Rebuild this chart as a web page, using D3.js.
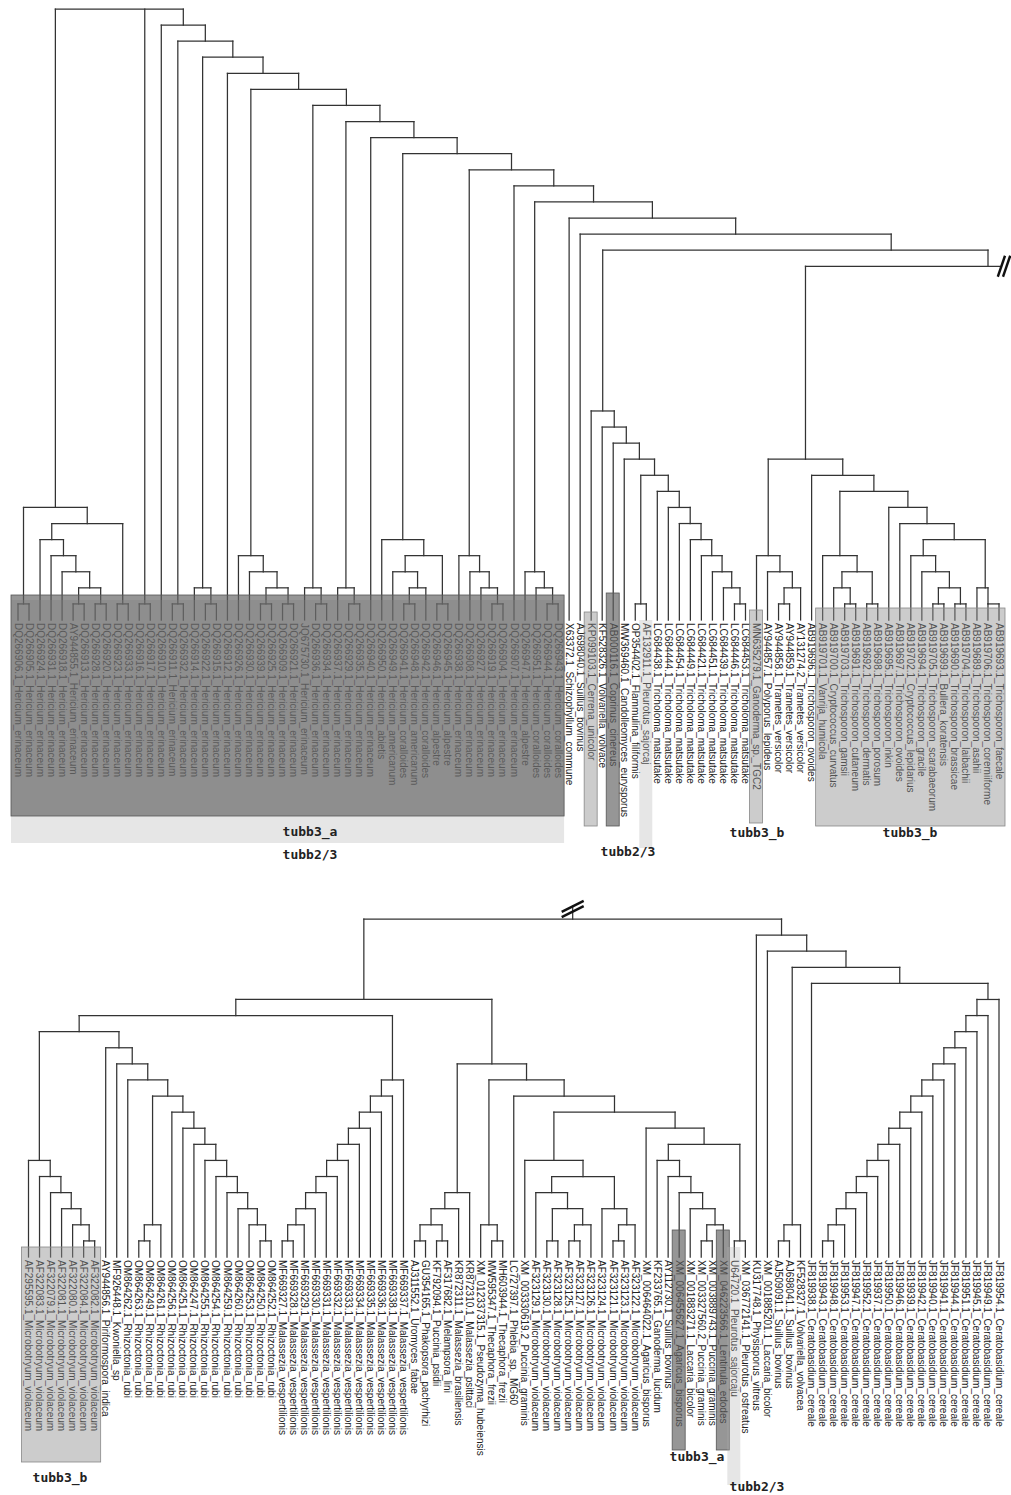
<!DOCTYPE html>
<html>
<head>
<meta charset="utf-8">
<script src="https://cdn.jsdelivr.net/npm/d3@7"></script>
<style>
  body { margin: 0; background: #fff; }
  .branch { stroke: #333; stroke-width: 1.25; stroke-linecap: square; }
  .leaf-label { font-family: "Liberation Sans", Arial, sans-serif; font-size: 10px; fill: #222; }
  .gene-label { font-family: "DejaVu Sans Mono", monospace; font-weight: bold; font-size: 13px; fill: #222; text-anchor: middle; }
  .break-mark { stroke: #111; stroke-width: 2.4; }
</style>
</head>
<body>
<div id="chart"></div>
<script>
// leaf names, left to right, upper half of the tree
const topLabels = [
  'DQ266906.1_Hericium_erinaceum', 'DQ266905.1_Hericium_erinaceum', 'DQ266924.1_Hericium_erinaceum',
  'DQ266931.1_Hericium_erinaceum', 'DQ266918.1_Hericium_erinaceum', 'AY944855.1_Hericium_erinaceum',
  'DQ266913.1_Hericium_erinaceum', 'DQ266928.1_Hericium_erinaceum', 'DQ266920.1_Hericium_erinaceum',
  'DQ266923.1_Hericium_erinaceum', 'DQ266933.1_Hericium_erinaceum', 'DQ266916.1_Hericium_erinaceum',
  'DQ266917.1_Hericium_erinaceum', 'DQ266910.1_Hericium_erinaceum', 'DQ266911.1_Hericium_erinaceum',
  'DQ266932.1_Hericium_erinaceum', 'DQ266914.1_Hericium_erinaceum', 'DQ266922.1_Hericium_erinaceum',
  'DQ266915.1_Hericium_erinaceum', 'DQ266912.1_Hericium_erinaceum', 'DQ266926.1_Hericium_erinaceum',
  'DQ266930.1_Hericium_erinaceum', 'DQ266939.1_Hericium_erinaceum', 'DQ266925.1_Hericium_erinaceum',
  'DQ266909.1_Hericium_erinaceum', 'DQ266921.1_Hericium_erinaceum', 'JQ675730.1_Hericium_erinaceum',
  'DQ266936.1_Hericium_erinaceum', 'DQ266934.1_Hericium_erinaceum', 'DQ266937.1_Hericium_erinaceum',
  'DQ266929.1_Hericium_erinaceum', 'DQ266935.1_Hericium_erinaceum', 'DQ266940.1_Hericium_erinaceum',
  'DQ266950.1_Hericium_abietis', 'DQ266949.1_Hericium_americanum', 'DQ266941.1_Hericium_coralloides',
  'DQ266948.1_Hericium_americanum', 'DQ266942.1_Hericium_coralloides', 'DQ266946.1_Hericium_alpestre',
  'DQ266945.1_Hericium_alpestre', 'DQ266938.1_Hericium_erinaceum', 'DQ266908.1_Hericium_erinaceum',
  'DQ266927.1_Hericium_erinaceum', 'DQ266919.1_Hericium_erinaceum', 'DQ266904.1_Hericium_erinaceum',
  'DQ266907.1_Hericium_erinaceum', 'DQ266947.1_Hericium_alpestre', 'DQ266951.1_Hericium_coralloides',
  'DQ266944.1_Hericium_coralloides', 'DQ266943.1_Hericium_coralloides', 'X63372.1_Schizophyllum_commune',
  'AJ698040.1_Suillus_bovinus', 'KP099103.1_Cerrena_unicolor', 'KF528326.1_Volvariella_volvace',
  'AB000116.1_Coprinus_cinereus', 'MW369460.1_Candolleomyces_eurysporus', 'OP354402.1_Flammulina_filiformis',
  'AF132911.1_Pleurotus_sajorcaj', 'LC684438.1_Tricholoma_matsutake', 'LC684444.1_Tricholoma_matsutake',
  'LC684454.1_Tricholoma_matsutake', 'LC684449.1_Tricholoma_matsutake', 'LC684421.1_Tricholoma_matsutake',
  'LC684451.1_Tricholoma_matsutake', 'LC684439.1_Tricholoma_matsutake', 'LC684446.1_Tricholoma_matsutake',
  'LC684453.1_Tricholoma_matsutake', 'MN635279.1_Ganoderma_sp._TGC2', 'AY944857.1_Polyporus_lepideus',
  'AY944858.1_Trametes_versicolor', 'AY944859.1_Trametes_versicolor', 'AY131274.2_Trametes_versicolor',
  'AB919696.1_Trichosporon_ovoides', 'AB919701.1_Vanrija_humicola', 'AB919700.1_Cryptococcus_curvatus',
  'AB919703.1_Trichosporon_gamsii', 'AB919691.1_Trichosporon_cutaneum', 'AB919692.1_Trichosporon_dermatis',
  'AB919698.1_Trichosporon_porosum', 'AB919695.1_Trichosporon_inkin', 'AB919697.1_Trichosporon_ovoides',
  'AB919702.1_Cryptococcus_lepidarius', 'AB919694.1_Trichosporon_gracile', 'AB919705.1_Trichosporon_scarabaeorum',
  'AB919699.1_Bullera_koratensis', 'AB919690.1_Trichosporon_brassicae', 'AB919704.1_Trichosporon_laibachii',
  'AB919689.1_Trichosporon_asahii', 'AB919706.1_Trichosporon_coremiiforme', 'AB919693.1_Trichosporon_faecale'
];

// leaf names, left to right, lower half (the part behind the // break)
const bottomLabels = [
  'AF295595.1_Microbotryum_violaceum', 'AF322083.1_Microbotryum_violaceum', 'AF322079.1_Microbotryum_violaceum',
  'AF322081.1_Microbotryum_violaceum', 'AF322080.1_Microbotryum_violaceum', 'AF322084.1_Microbotryum_violaceum',
  'AF322082.1_Microbotryum_violaceum', 'AY944856.1_Piriformospora_indica', 'MF926448.1_Kwoniella_sp',
  'OM864262.1_Rhizoctonia_rubi', 'OM864263.1_Rhizoctonia_rubi', 'OM864249.1_Rhizoctonia_rubi',
  'OM864261.1_Rhizoctonia_rubi', 'OM864256.1_Rhizoctonia_rubi', 'OM864251.1_Rhizoctonia_rubi',
  'OM864247.1_Rhizoctonia_rubi', 'OM864255.1_Rhizoctonia_rubi', 'OM864254.1_Rhizoctonia_rubi',
  'OM864259.1_Rhizoctonia_rubi', 'OM864260.1_Rhizoctonia_rubi', 'OM864253.1_Rhizoctonia_rubi',
  'OM864250.1_Rhizoctonia_rubi', 'OM864252.1_Rhizoctonia_rubi', 'MF669327.1_Malassezia_vespertilionis',
  'MF669328.1_Malassezia_vespertilionis', 'MF669329.1_Malassezia_vespertilionis', 'MF669330.1_Malassezia_vespertilionis',
  'MF669331.1_Malassezia_vespertilionis', 'MF669332.1_Malassezia_vespertilionis', 'MF669333.1_Malassezia_vespertilionis',
  'MF669334.1_Malassezia_vespertilionis', 'MF669335.1_Malassezia_vespertilionis', 'MF669336.1_Malassezia_vespertilionis',
  'MF669338.1_Malassezia_vespertilionis', 'MF669337.1_Malassezia_vespertilionis', 'AJ311552.1_Uromyces_fabae',
  'GU354165.1_Phakopsora_pachyrhizi', 'KF792094.1_Puccinia_psidii', 'AF317682.1_Melampsora_lini',
  'KR872311.1_Malassezia_brasiliensis', 'KR872310.1_Malassezia_psittaci', 'XM_012337315.1_Pseudozyma_hubeiensis',
  'MW595347.1_Thecaphora_frezii', 'MH603944.1_Thecaphora_frezii', 'LC727397.1_Phlebia_sp._MG60',
  'XM_003330619.2_Puccinia_graminis', 'AF323129.1_Microbotryum_violaceum', 'AF323130.1_Microbotryum_violaceum',
  'AF323128.1_Microbotryum_violaceum', 'AF323125.1_Microbotryum_violaceum', 'AF323127.1_Microbotryum_violaceum',
  'AF323126.1_Microbotryum_violaceum', 'AF323124.1_Microbotryum_violaceum', 'AF323121.1_Microbotryum_violaceum',
  'AF323123.1_Microbotryum_violaceum', 'AF323122.1_Microbotryum_violaceum', 'XM_006464022.1_Agaricus_bisporus',
  'KF233765.1_Ganoderma_lucidum', 'AY112730.1_Suillus_bovinus', 'XM_006455627.1_Agaricus_bisporus',
  'XM_001883271.1_Laccaria_bicolor', 'XM_003327560.2_Puccinia_graminis', 'XM_003889743.1_Puccinia_graminis',
  'XM_046223566.1_Lentinula_edodes', 'U64720.1_Pleurotus_sajorcaju', 'XM_036772141.1_Pleurotus_ostreatus',
  'KU317748.1_Physisporus_vitreus', 'XM_001885201.1_Laccaria_bicolor', 'AJ509091.1_Suillus_bovinus',
  'AJ698041.1_Suillus_bovinus', 'KF528327.1_Volvariella_volvacea', 'JF819938.1_Ceratobasidium_cereale',
  'JF819943.1_Ceratobasidium_cereale', 'JF819948.1_Ceratobasidium_cereale', 'JF819953.1_Ceratobasidium_cereale',
  'JF819947.1_Ceratobasidium_cereale', 'JF819952.1_Ceratobasidium_cereale', 'JF819937.1_Ceratobasidium_cereale',
  'JF819950.1_Ceratobasidium_cereale', 'JF819946.1_Ceratobasidium_cereale', 'JF819939.1_Ceratobasidium_cereale',
  'JF819942.1_Ceratobasidium_cereale', 'JF819940.1_Ceratobasidium_cereale', 'JF819941.1_Ceratobasidium_cereale',
  'JF819944.1_Ceratobasidium_cereale', 'JF819951.1_Ceratobasidium_cereale', 'JF819945.1_Ceratobasidium_cereale',
  'JF819949.1_Ceratobasidium_cereale', 'JF819954.1_Ceratobasidium_cereale'
];

// gene type shading: leaf ranges (1-based) in each half
const topGroups = [
  { gene: 'tubb2/3', first: 1, last: 50 },
  { gene: 'tubb3_a', first: 1, last: 50 },
  { gene: 'tubb3_b', first: 53, last: 53 },
  { gene: 'tubb3_a', first: 55, last: 55 },
  { gene: 'tubb2/3', first: 58, last: 58 },
  { gene: 'tubb3_b', first: 68, last: 68 },
  { gene: 'tubb3_b', first: 74, last: 90 },
];
const bottomGroups = [
  { gene: 'tubb3_b', first: 1, last: 7 },
  { gene: 'tubb3_a', first: 60, last: 60 },
  { gene: 'tubb3_a', first: 64, last: 64 },
  { gene: 'tubb2/3', first: 65, last: 65 },
];
const topGeneTags = ['tubb3_a', 'tubb2/3', 'tubb2/3', 'tubb3_b', 'tubb3_b'];
const bottomGeneTags = ['tubb3_b', 'tubb3_a', 'tubb2/3'];

// tree shape (newick), built from small pieces
const pr = (a, b) => `(${a},${b})`;
const rc = (...xs) => xs.reduceRight((acc, x) => `(${x},${acc})`);
const lc = (...xs) => xs.reduce((acc, x) => `(${acc},${x})`);

const cladeA = pr(pr('t1', 't2'), pr(rc('t3', 't4', 't5', pr(pr('t6', 't7'), pr('t8', 't9'))), pr('t10', 't11')));
const clade21 = rc('t21', 't22', pr(pr('t23', 't24'), pr('t25', 't26')));
const clade34 = pr('t34', pr(pr('t35', pr(pr('t36', 't37'), 't38')), pr('t39', 't40')));
const clade41 = rc('t41', 't42', 't43', 't44', 't45');
const clade53 = rc('t53', 't54', 't55', 't56',
  pr(pr('t57', 't58'), rc('t59', 't60', 't61', 't62', 't63', 't64', 't65', 't66', 't67')));
const clade68 = pr(rc('t68', 't69', pr(pr('t70', 't71'), 't72')),
  pr('t73', pr(pr('t74', pr(pr('t75', pr('t76', 't77')), pr('t78', 't79'))),
    rc('t80', 't81', pr(rc('t82', 't83', pr(pr('t84', 't85'), pr('t86', 't87'))), rc('t88', 't89', 't90'))))));

const topNewick = `(${cladeA},${pr('t12', 't13')},${rc('t14', pr('t15', 't16'), rc('t17', 't18', 't19'), 't20',
  clade21, rc('t27', 't28', 't29'), rc('t30', 't31', 't32'), 't33', clade34, clade41, 't46',
  rc('t47', 't48', 't49', 't50'), 't51', 't52', clade53, pr(clade68, 'BREAK'))})`;

const cladeMicro = rc('b1', 'b2', 'b3', 'b4', 'b5', 'b6', 'b7');
const cladeRhizo = pr('b10', pr(lc('b11', 'b12', 'b13'),
  rc('b14', 'b15', 'b16', 'b17', 'b18', 'b19', 'b20', 'b21', 'b22', 'b23')));
const cladeMala = lc('b24', 'b25', 'b26', 'b27', 'b28', 'b29', 'b30', 'b31', 'b32', 'b33', 'b34', 'b35');
const cladeRust = lc(pr(pr('b36', 'b37'), pr('b38', 'b39')), 'b40', 'b41');
const clade46 = pr('b46', pr(pr('b47', pr(pr('b48', 'b49'), lc('b50', 'b51', 'b52'))), pr('b53', lc('b54', 'b55', 'b56'))));
const clade57 = pr('b57', pr(rc('b58', 'b59', 'b60', 'b61', lc('b62', 'b63', 'b64')), pr('b65', 'b66')));
const cladeCera = lc('b73', 'b74', 'b75', 'b76', 'b77', 'b78', 'b79', 'b80', 'b81',
  'b82', 'b83', 'b84', 'b85', 'b86', 'b87', 'b88', 'b89');

const bottomNewick = pr(
  pr(pr(pr(cladeMicro, rc('b8', 'b9', cladeRhizo)), cladeMala),
    pr(cladeRust, rc(pr('b42', pr('b43', 'b44')), 'b45', pr(clade46, clade57)))),
  rc('b67', 'b68', lc('b69', 'b70', 'b71'), 'b72', cladeCera));

function parseNewick(s) {
  let i = 0;
  function node() {
    if (s[i] === '(') {
      i++;
      const children = [node()];
      while (s[i] === ',') { i++; children.push(node()); }
      i++;
      return { children };
    }
    let name = '';
    while (i < s.length && !',()'.includes(s[i])) name += s[i++];
    return { name };
  }
  return node();
}

const width = 1011;
const height = 1495;
const layout = {
  topTip: 620, topRootY: 9, topFirstX: 18, topLastX: 999,
  bottomTip: 1257, bottomRootY: 919, bottomFirstX: 28.5, bottomLastX: 999,
  labelGap: 3, clampX: width - 23, breakX: width - 11,
  topBoxY: [[600, 843], [595, 816], [612, 826], [593, 826], [620, 848], [610, 823], [608, 826]],
  bottomBoxY: [[1247, 1462], [1230, 1450], [1230, 1450], [1247, 1485]],
  topTagPos: [[310, 836], [310, 859], [628, 856], [757, 837], [910, 837]],
  bottomTagPos: [[60, 1482], [697, 1461], [757, 1491]],
};
const geneStyle = {
  'tubb3_a': { fill: '#5f5f5f', opacity: 0.66, stroke: '#555' },
  'tubb3_b': { fill: '#8f8f8f', opacity: 0.45, stroke: '#888' },
  'tubb2/3': { fill: '#b4b4b4', opacity: 0.33, stroke: 'none' },
};

const labelOf = name => name[0] === 't'
  ? topLabels[+name.slice(1) - 1]
  : bottomLabels[+name.slice(1) - 1];

const root = d3.hierarchy(parseNewick(topNewick.replace('BREAK', bottomNewick)));
d3.cluster().separation(() => 1).size([root.leaves().length, 1])(root);

const allLeaves = root.leaves();
const topLeaves = allLeaves.filter(d => d.data.name[0] === 't');
const bottomLeaves = allLeaves.filter(d => d.data.name[0] === 'b');
const bottomRoot = root.descendants().find(d =>
  d.leaves().length === bottomLeaves.length && d.leaves().every(l => l.data.name[0] === 'b'));
const inBottom = new Set(bottomRoot.descendants());

const xTop = d3.scaleLinear()
  .domain([topLeaves[0].x, topLeaves[topLeaves.length - 1].x])
  .range([layout.topFirstX, layout.topLastX]);
const yTop = d3.scaleLinear().domain([0, root.height]).range([layout.topTip, layout.topRootY]);
const xBot = d3.scaleLinear()
  .domain([bottomLeaves[0].x, bottomLeaves[bottomLeaves.length - 1].x])
  .range([layout.bottomFirstX, layout.bottomLastX]);
const yBot = d3.scaleLinear().domain([0, bottomRoot.height]).range([layout.bottomTip, layout.bottomRootY]);

const svg = d3.select('#chart').append('svg')
  .attr('width', width)
  .attr('height', height)
  .style('display', 'block');

// branches of the upper half
const pxTop = d => d.children ? Math.min(xTop(d.x), layout.clampX) : xTop(d.x);
const segs = [];
root.descendants().filter(d => d.children && !inBottom.has(d)).forEach(d => {
  const y = yTop(d.height);
  const xs = d.children.map(c => c === bottomRoot ? layout.breakX : pxTop(c));
  segs.push([d3.min(xs), y, d3.max(xs), y]);
  d.children.forEach(c => {
    if (c !== bottomRoot) segs.push([pxTop(c), y, pxTop(c), yTop(c.height)]);
  });
});

// branches of the lower half
bottomRoot.descendants().filter(d => d.children).forEach(d => {
  const y = yBot(d.height);
  const xs = d.children.map(c => xBot(c.x));
  segs.push([d3.min(xs), y, d3.max(xs), y]);
  d.children.forEach(c => segs.push([xBot(c.x), y, xBot(c.x), yBot(c.height)]));
});
const stemX = xBot(bottomRoot.x);
const stemTop = yBot(bottomRoot.height) - 13;
segs.push([stemX, stemTop, stemX, yBot(bottomRoot.height)]);

svg.append('g').selectAll('line')
  .data(segs)
  .join('line')
  .attr('class', 'branch')
  .attr('x1', d => d[0]).attr('y1', d => d[1])
  .attr('x2', d => d[2]).attr('y2', d => d[3]);

// // marks where the tree continues
const breakY = yTop(bottomRoot.parent.height);
const marks = svg.append('g');
[-2.6, 2.6].forEach(off => {
  marks.append('line').attr('class', 'break-mark')
    .attr('x1', layout.breakX + 4 + off - 3.6).attr('y1', breakY + 10.5)
    .attr('x2', layout.breakX + 4 + off + 3.6).attr('y2', breakY - 10.5);
  marks.append('line').attr('class', 'break-mark')
    .attr('x1', stemX - 11).attr('y1', stemTop + 3 + off + 5.5)
    .attr('x2', stemX + 11).attr('y2', stemTop + 3 + off - 5.5);
});

// leaf labels
const labels = svg.append('g');
labels.selectAll('text.top')
  .data(topLeaves)
  .join('text')
  .attr('class', 'leaf-label top')
  .attr('transform', d => `translate(${xTop(d.x)},${layout.topTip + layout.labelGap}) rotate(90)`)
  .attr('dy', '0.35em')
  .text(d => labelOf(d.data.name));
labels.selectAll('text.bottom')
  .data(bottomLeaves)
  .join('text')
  .attr('class', 'leaf-label bottom')
  .attr('transform', d => `translate(${xBot(d.x)},${layout.bottomTip + layout.labelGap}) rotate(90)`)
  .attr('dy', '0.35em')
  .text(d => labelOf(d.data.name));

// gene type shading on top of the labels
function drawBoxes(groups, leaves, xs, spans) {
  svg.append('g').selectAll('rect')
    .data(groups)
    .join('rect')
    .attr('x', d => xs(leaves[d.first - 1].x) - 7)
    .attr('width', d => xs(leaves[d.last - 1].x) - xs(leaves[d.first - 1].x) + 13)
    .attr('y', (d, i) => spans[i][0])
    .attr('height', (d, i) => spans[i][1] - spans[i][0])
    .attr('fill', d => geneStyle[d.gene].fill)
    .attr('fill-opacity', d => geneStyle[d.gene].opacity)
    .attr('stroke', d => geneStyle[d.gene].stroke)
    .attr('stroke-width', 0.8);
}
drawBoxes(topGroups, topLeaves, xTop, layout.topBoxY);
drawBoxes(bottomGroups, bottomLeaves, xBot, layout.bottomBoxY);

function drawTags(tags, pos) {
  svg.append('g').selectAll('text')
    .data(tags)
    .join('text')
    .attr('class', 'gene-label')
    .attr('x', (d, i) => pos[i][0])
    .attr('y', (d, i) => pos[i][1])
    .text(d => d);
}
drawTags(topGeneTags, layout.topTagPos);
drawTags(bottomGeneTags, layout.bottomTagPos);
</script>
</body>
</html>
